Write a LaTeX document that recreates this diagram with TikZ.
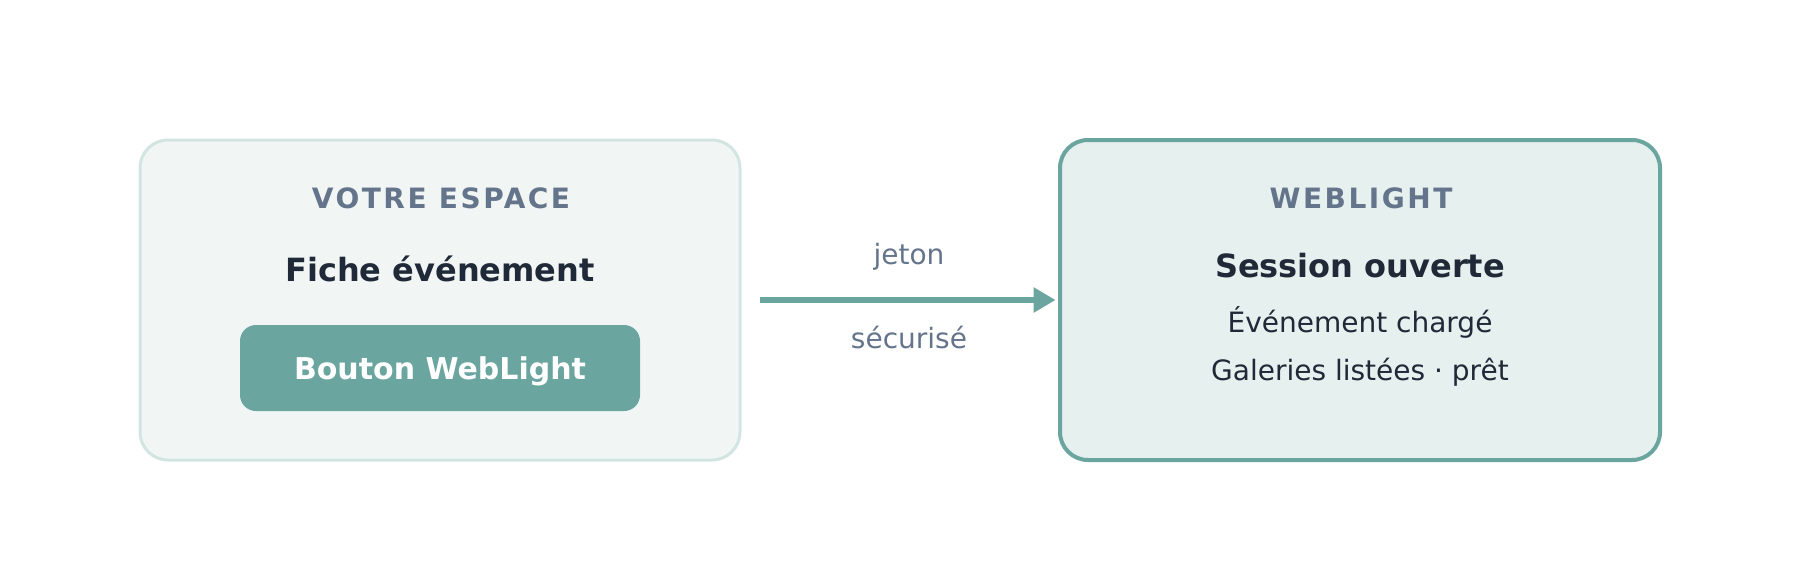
\documentclass[tikz,border=0pt]{standalone}
\usepackage{fontspec}
\setmainfont{DejaVu Sans}
\newfontfamily\trackfont[LetterSpace=9]{DejaVu Sans}
\usetikzlibrary{arrows.meta}
\definecolor{teal}{HTML}{6BA59F}
\definecolor{lfill}{HTML}{F1F6F5}
\definecolor{lborder}{HTML}{D3E5E1}
\definecolor{rfill}{HTML}{E6F0EE}
\definecolor{muted}{HTML}{64748B}
\definecolor{ink}{HTML}{1F2937}
\tikzset{
  card/.style={rectangle, rounded corners=14pt, minimum width=300pt, minimum height=160pt, inner sep=0pt},
  leftcard/.style={card, fill=lfill, draw=lborder, line width=1.5pt},
  rightcard/.style={card, fill=rfill, draw=teal, line width=2pt},
  btn/.style={rectangle, rounded corners=8pt, fill=teal, minimum width=200pt, minimum height=43pt, inner sep=0pt},
  txt/.style={anchor=base, inner sep=0pt},
  kicker/.style={txt, text=muted, font=\trackfont\bfseries\fontsize{14}{16}\selectfont},
  titletxt/.style={txt, text=ink, font=\bfseries\fontsize{16}{19}\selectfont},
  bodytxt/.style={txt, text=ink, font=\fontsize{14}{17}\selectfont},
  edgelabel/.style={txt, text=muted, font=\fontsize{14}{17}\selectfont},
  flow/.style={draw=teal, line width=3.2pt, -{Triangle[length=11pt,width=12pt]}}
}
\begin{document}
\begin{tikzpicture}[x=1pt,y=-1pt]
\useasboundingbox (0,0) rectangle (900,290);
\node[leftcard] (espace) at (220,150) {};
\node[rightcard] (weblight) at (680,150) {};
\node[btn] (bouton) at (220,184) {};
\node[kicker] (k1) at (220.5,104) {VOTRE ESPACE};
\node[titletxt] (t1) at (220,140.5) {Fiche événement};
\node[txt, text=white, font=\bfseries\fontsize{15}{18}\selectfont] (b1) at (bouton.center) [yshift=-5.5pt] {Bouton WebLight};
\node[kicker] (k2) at (680.5,104) {WEBLIGHT};
\node[titletxt] (t2) at (680,138.5) {Session ouverte};
\node[bodytxt] (l1) at (680,166) {Événement chargé};
\node[bodytxt] (l2) at (680,190) {Galeries listées · prêt};
\draw[flow, shorten <=9.25pt, shorten >=1.2pt] (espace.east) -- (weblight.west);
\node[edgelabel] (jeton) at (454.5,132) {jeton};
\node[edgelabel] (secur) at (454.5,174) {sécurisé};
\end{tikzpicture}
\end{document}
